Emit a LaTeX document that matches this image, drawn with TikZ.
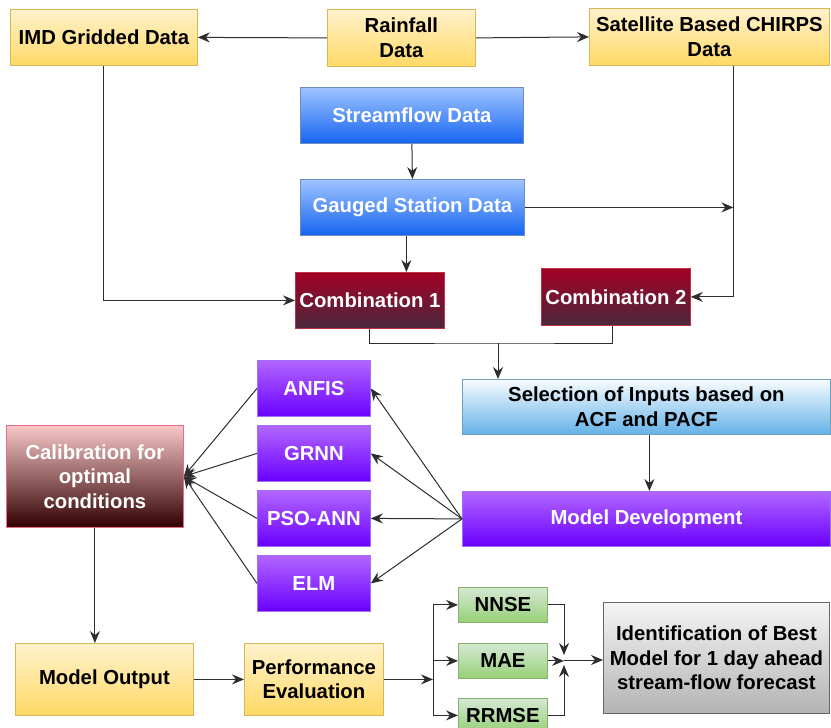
\documentclass[tikz,border=0pt]{standalone}
\usepackage{fontspec}
\setmainfont{Liberation Sans}
\usetikzlibrary{arrows.meta,calc}
\definecolor{yelT}{HTML}{FFF2CC}
\definecolor{yelB}{HTML}{FFD966}
\definecolor{yelD}{HTML}{D6B656}
\definecolor{bluT}{RGB}{160,196,255}
\definecolor{bluB}{RGB}{20,100,240}
\definecolor{bluD}{HTML}{6C8EBF}
\definecolor{redT}{RGB}{162,0,37}
\definecolor{redB}{RGB}{75,40,60}
\definecolor{redD}{RGB}{190,50,70}
\definecolor{selT}{RGB}{248,252,255}
\definecolor{selB}{RGB}{100,178,232}
\definecolor{selD}{RGB}{110,160,190}
\definecolor{purT}{RGB}{178,102,255}
\definecolor{purB}{RGB}{106,0,255}
\definecolor{purD}{RGB}{160,110,240}
\definecolor{calT}{RGB}{248,200,200}
\definecolor{calB}{RGB}{50,0,0}
\definecolor{calD}{RGB}{234,107,140}
\definecolor{grnT}{HTML}{D5E8D4}
\definecolor{grnB}{HTML}{97D077}
\definecolor{grnD}{HTML}{82B366}
\definecolor{gryT}{HTML}{F5F5F5}
\definecolor{gryB}{HTML}{B3B3B3}
\definecolor{gryD}{HTML}{666666}
\definecolor{lineC}{RGB}{45,45,45}
\newcommand\bx[7]{\node[#2, minimum width=#5pt, minimum height=#6pt] (#1) at (#3,#4) {#7};}
\begin{document}
\begin{tikzpicture}[x=1pt,y=-1pt,
  every node/.style={font=\fontsize{20.3}{24.5}\selectfont\bfseries, align=center, inner sep=0pt, anchor=north west},
  box/.style={draw, line width=0.8pt},
  yel/.style={box, draw=yelD, top color=yelT, bottom color=yelB, text=black},
  blu/.style={box, draw=bluD, top color=bluT, bottom color=bluB, text=white},
  redbox/.style={box, draw=redD, top color=redT, bottom color=redB, text=white},
  selbox/.style={box, draw=selD, top color=selT, bottom color=selB, text=black},
  pur/.style={box, draw=purD, top color=purT, bottom color=purB, text=white},
  cal/.style={box, draw=calD, top color=calT, bottom color=calB, text=white},
  grn/.style={box, draw=grnD, top color=grnT, bottom color=grnB, text=black},
  gry/.style={box, draw=gryD, top color=gryT, bottom color=gryB, text=black},
  arr/.style={draw=lineC, line width=1pt, -{Stealth[length=12pt,width=10pt,inset=4pt]}},
  ln/.style={draw=lineC, line width=1pt}]
\useasboundingbox (0,0) rectangle (831,728);
\bx{imd}{yel}{10}{9}{187}{56}{IMD Gridded Data}
\bx{rain}{yel}{327}{9}{148}{57}{Rainfall\\Data}
\bx{sat}{yel}{589}{8}{240}{57}{Satellite Based CHIRPS\\Data}
\bx{stream}{blu}{300}{87}{223}{56}{Streamflow Data}
\bx{gauged}{blu}{300}{179}{224}{56}{Gauged Station Data}
\bx{comb1}{redbox}{295}{272}{149}{56}{Combination 1}
\bx{comb2}{redbox}{541}{268}{149}{57}{Combination 2}
\bx{sel}{selbox}{462}{379}{368}{55}{Selection of Inputs based on\\ACF and PACF}
\bx{md}{pur}{462}{491}{368}{55}{Model Development}
\bx{anfis}{pur}{257}{360}{113}{56}{ANFIS}
\bx{grnn}{pur}{257}{425}{113}{56}{GRNN}
\bx{pso}{pur}{257}{490}{113}{56}{PSO-ANN}
\bx{elm}{pur}{257}{555}{113}{56}{ELM}
\bx{calib}{cal}{6}{425}{177}{102}{Calibration for\\optimal\\conditions}
\bx{mout}{yel}{15}{643}{178}{72}{Model Output}
\bx{perf}{yel}{244}{643}{139}{72}{Performance\\Evaluation}
\bx{nnse}{grn}{458}{587}{89}{35}{NNSE}
\bx{mae}{grn}{458}{643}{89}{35}{MAE}
\bx{rrmse}{grn}{458}{698}{89}{34}{RRMSE}
\bx{ident}{gry}{603}{602}{226}{111}{Identification of Best\\Model for 1 day ahead\\stream-flow forecast}
% top connectors
\draw[arr] (rain.west) -- (imd.east);
\draw[arr] (rain.east) -- (sat.west);
\draw[arr] (stream.south) -- (gauged.north);
\coordinate (g1) at ([xshift=-6pt]gauged.south);
\draw[arr] (g1) -- (g1 |- comb1.north);
\draw[arr] (imd.south) |- (comb1.west);
\coordinate (satx) at ([xshift=24pt]sat.south);
\draw[arr] (satx) |- (comb2.east);
\draw[arr] (gauged.east) -- (gauged.east -| satx);
\coordinate (j) at (498,343);
\draw[ln] (comb1.south) |- (j) -| ([xshift=-3pt]comb2.south);
\draw[arr] (j) -- (j |- sel.north);
\draw[arr] ([xshift=3pt]sel.south) -- ([xshift=3pt]md.north);
% models
\foreach \m in {anfis,grnn,pso,elm}{
  \draw[arr] (md.west) -- (\m.east);
  \draw[arr] (\m.west) -- (calib.east);
}
\draw[arr] (calib.south) -- (calib.south |- mout.north);
\draw[arr] (mout.east) -- (perf.west);
% evaluation
\coordinate (sp) at (433,660);
\draw[arr] (perf.east) -- (perf.east -| sp);
\draw[ln] (sp |- nnse.west) -- (sp |- rrmse.west);
\draw[arr] (sp |- nnse.west) -- (nnse.west);
\draw[arr] (sp |- mae.west) -- (mae.west);
\draw[arr] (sp |- rrmse.west) -- (rrmse.west);
\coordinate (mg) at (564,660);
\draw[arr] (nnse.east) -| ([yshift=5pt]mg);
\draw[arr] (rrmse.east) -| ([yshift=-5pt]mg);
\draw[arr] (mae.east) -- (mae.east -| mg);
\draw[arr] (mg) -- (mg -| ident.west);
\end{tikzpicture}
\end{document}
